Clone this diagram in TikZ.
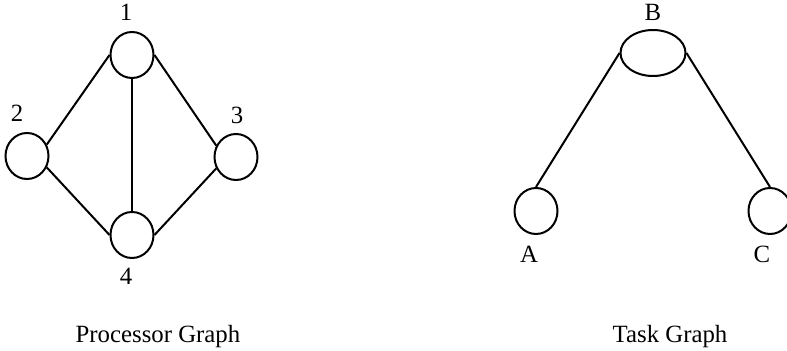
\documentclass[tikz,border=0pt]{standalone}
\usepackage{fontspec}
\setmainfont{Liberation Serif}
\usepackage{tikz}
\usetikzlibrary{positioning, shapes.geometric}

\begin{document}
\begin{tikzpicture}[
  x=0.5pt, y=-0.5pt,
  vertex/.style={ellipse, draw, line width=1pt, inner sep=0pt, minimum width=21.5pt, minimum height=23pt},
  wide/.style={vertex, minimum width=32.5pt},
  lbl/.style={inner sep=0pt, font=\fontsize{12.4}{14}\selectfont},
  edge/.style={line width=1pt}
]
\useasboundingbox (0,0) rectangle (787,351);

% processor graph
\node[vertex] (p1) at (132,55) {};
\node[vertex] (p2) at (27,156) {};
\node[vertex] (p3) at (236,157) {};
\node[vertex] (p4) at (132,235) {};
\node[lbl, above=5pt of p1, xshift=-3pt] (l1) {1};
\node[lbl, above=5pt of p2, xshift=-5pt] (l2) {2};
\node[lbl, above=4.5pt of p3, xshift=0.5pt] (l3) {3};
\node[lbl, below=4.5pt of p4, xshift=-3pt] (l4) {4};

\draw[edge] (p1.west) -- (p2.30);
\draw[edge] (p1.east) -- (p3.150);
\draw[edge] (p1.south) -- (p4.north);
\draw[edge] (p2.-30) -- (p4.west);
\draw[edge] (p3.210) -- (p4.east);

% task graph
\node[wide] (tb) at (653,53) {};
\node[vertex] (ta) at (536,211) {};
\node[vertex] (tc) at (770,211) {};
\node[lbl, above=4pt of tb] (lb) {B};
\node[lbl, below=5.5pt of ta, xshift=-3.5pt] (la) {A};
\node[lbl, below=5.5pt of tc, xshift=-4pt] (lc) {C};

\draw[edge] (tb.west) -- (ta.north);
\draw[edge] (tb.east) -- (tc.north);

\node[lbl, anchor=base] (cap1) at (158,343) {Processor Graph};
\node[lbl, anchor=base] (cap2) at (670,343) {Task Graph};
\end{tikzpicture}
\end{document}
